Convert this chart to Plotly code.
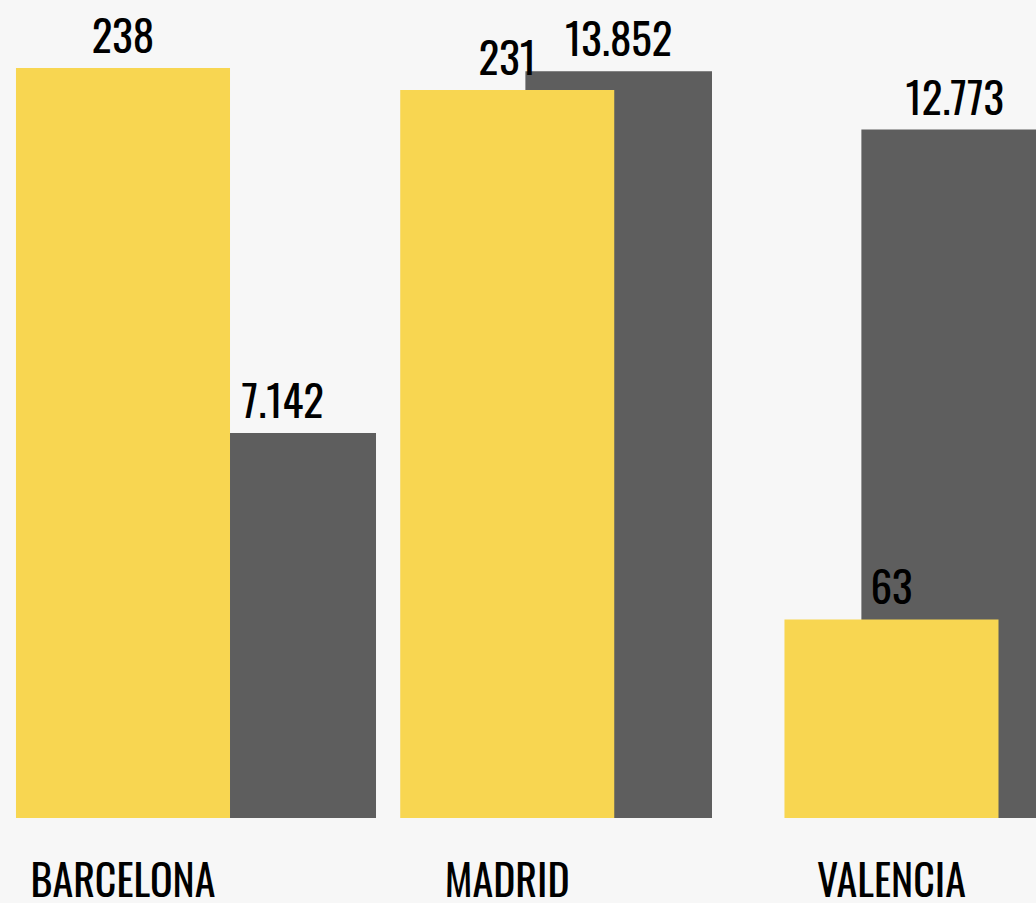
import plotly.graph_objects as go

cities = ["BARCELONA", "MADRID", "VALENCIA"]
yellow_values = [238, 231, 63]
grey_values = [7142, 13852, 12773]

YELLOW = "#F8D651"
GREY = "#5E5E5E"
BG = "#F7F7F7"
FONT = "Oswald, Roboto Condensed, DejaVu Sans Condensed, sans-serif"

fig = go.Figure()

# grey series sits underneath, on its own axes
fig.add_trace(
    go.Bar(
        x=cities,
        y=grey_values,
        width=0.5554,
        marker={"color": GREY, "line": {"width": 0}},
        texttemplate="%{y:,}",
        textposition="outside",
        textfont={"family": FONT, "size": 43, "color": "black"},
        cliponaxis=False,
        xaxis="x",
        yaxis="y",
        showlegend=False,
    )
)

# yellow series drawn on top (overlay axes)
fig.add_trace(
    go.Bar(
        x=cities,
        y=yellow_values,
        width=0.557,
        marker={"color": YELLOW, "line": {"width": 0}},
        texttemplate="%{y}",
        textposition="outside",
        textfont={"family": FONT, "size": 43, "color": "black"},
        cliponaxis=False,
        xaxis="x2",
        yaxis="y2",
        showlegend=False,
    )
)

fig.update_layout(
    width=1036,
    height=903,
    margin={"l": 0, "r": 0, "t": 0, "b": 85},
    paper_bgcolor=BG,
    plot_bgcolor=BG,
    separators=",.",
    font={"family": FONT, "color": "black"},
    xaxis={
        "range": [-0.8414, 2.2420],
        "showticklabels": False,
        "showgrid": False,
        "zeroline": False,
        "showline": False,
        "automargin": False,
    },
    yaxis={
        "range": [0, 15176],
        "visible": False,
        "showgrid": False,
        "zeroline": False,
    },
    xaxis2={
        "overlaying": "x",
        "side": "bottom",
        "range": [-0.3201, 2.3761],
        "showgrid": False,
        "zeroline": False,
        "showline": False,
        "ticks": "outside",
        "ticklen": 28,
        "tickcolor": "rgba(0,0,0,0)",
        "tickfont": {"family": FONT, "size": 42, "color": "black"},
        "automargin": False,
    },
    yaxis2={
        "overlaying": "y",
        "range": [0, 259.6],
        "visible": False,
        "showgrid": False,
        "zeroline": False,
    },
)

fig.write_html(
    "out.html",
    config={"displayModeBar": False},
    post_script="document.body.style.margin='0';",
)
